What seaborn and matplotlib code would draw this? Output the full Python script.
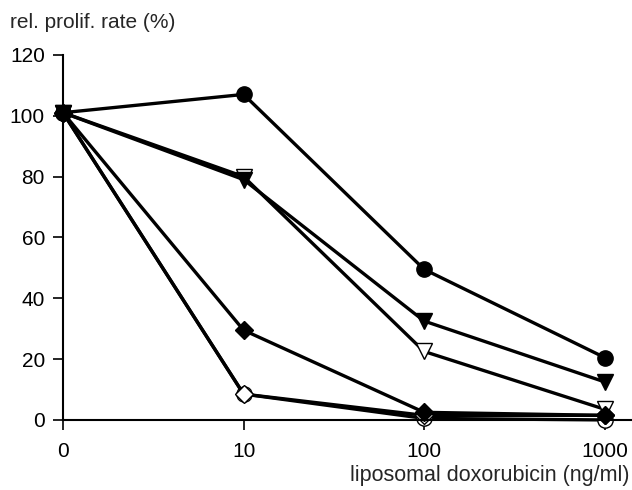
import numpy as np
import pandas as pd
import seaborn as sns
import matplotlib.pyplot as plt

# doses shown as evenly spaced categories
doses = ["0", "10", "100", "1000"]

filled_circle = [101, 107, 49.5, 20.5]
filled_triangle = [101, 79, 32.5, 12.5]
open_triangle = [101, 80, 22.5, 3.5]
filled_diamond = [101, 29.5, 2.5, 1.5]
open_diamond = [101, 8.5, 1.5, 1.5]
open_circle = [101, 8.5, 0.5, 0]

sns.set_style("ticks")
plt.rcParams['font.family'] = ['Liberation Sans', 'DejaVu Sans']

fig = plt.figure(figsize=(6.32, 4.9), dpi=100)
ax = fig.add_axes([0.0997, 0.143, 0.9, 0.745])

pos = np.arange(len(doses))
# open markers first so the filled ones sit on top
series = [
    (open_circle, 'o', 'white'),
    (open_diamond, 'D', 'white'),
    (open_triangle, 'v', 'white'),
    (filled_diamond, 'D', 'black'),
    (filled_triangle, 'v', 'black'),
    (filled_circle, 'o', 'black'),
]
for vals, mk, fc in series:
    df = pd.DataFrame({'x': pos, 'y': vals})
    sns.lineplot(data=df, x='x', y='y', ax=ax, color='black', linewidth=2.4,
                 marker=mk, markersize=11 if mk != 'D' else 9,
                 markerfacecolor=fc, markeredgecolor='black', markeredgewidth=1.0,
                 clip_on=False)

ax.set_xlim(0, 3.15)
ax.set_ylim(0, 120)
ax.set_xticks(pos)
ax.set_xticklabels(doses)
ax.set_yticks(range(0, 121, 20))
ax.tick_params(labelsize=15, length=7, width=1.2, colors='black')
ax.tick_params(axis='y', pad=6)
ax.tick_params(axis='x', pad=9)
for s in ['top', 'right']:
    ax.spines[s].set_visible(False)
for s in ['left', 'bottom']:
    ax.spines[s].set_linewidth(1.5)
    ax.spines[s].set_color('black')
ax.set_xlabel('')
ax.set_ylabel('')
fig.text(0.016, 0.955, 'rel. prolif. rate (%)', fontsize=15, va='center', ha='left')
fig.text(0.996, 0.03, 'liposomal doxorubicin (ng/ml)', fontsize=15.5, va='center', ha='right')

fig.savefig('out.png', dpi=100)
